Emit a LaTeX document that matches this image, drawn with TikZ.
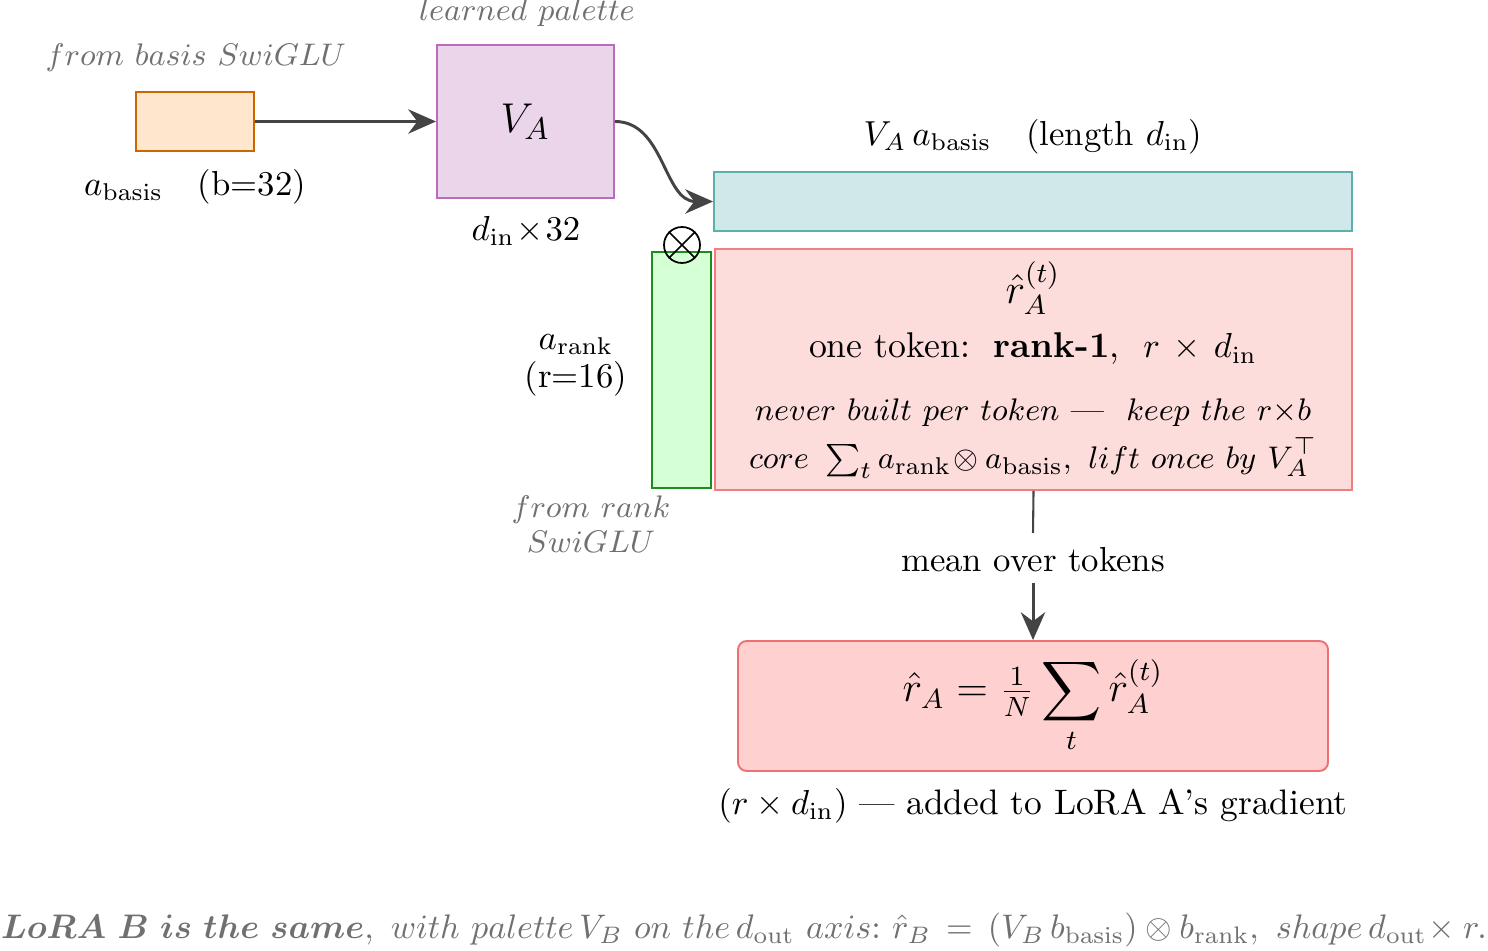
\documentclass[tikz,border=0pt]{standalone}
\usepackage{graphicx}
\usepackage{amsmath,amssymb,bm}
\usetikzlibrary{arrows.meta}
\definecolor{orfill}{HTML}{FFE6CC}
\definecolor{ordraw}{HTML}{CC6600}
\definecolor{pufill}{HTML}{EAD5EA}
\definecolor{pudraw}{HTML}{BA6BBE}
\definecolor{tefill}{HTML}{D0E8EA}
\definecolor{tedraw}{HTML}{5BB0AC}
\definecolor{grfill}{HTML}{D5FFD5}
\definecolor{grdraw}{HTML}{1E8C1E}
\definecolor{pkfill}{HTML}{FDDCDC}
\definecolor{pkdraw}{HTML}{F27F7F}
\definecolor{rsfill}{HTML}{FFD0D0}
\definecolor{rsdraw}{HTML}{EE7070}
\definecolor{notegray}{HTML}{707070}
\definecolor{arrgray}{HTML}{444444}
\newcommand\pxu{0.288pt}
\newcommand\itsz{\fontsize{9.3}{11}\selectfont}
\tikzset{
  box/.style={draw, line width=0.55pt, inner sep=0pt, rectangle},
  note/.style={text=notegray, inner sep=1pt, font=\itsz},
  lbl/.style={inner sep=1pt},
  arr/.style={draw=arrgray, line width=0.85pt, -{Stealth[length=8pt,width=7pt]}},
  plain/.style={draw=arrgray, line width=0.6pt}
}
\begin{document}
\begin{tikzpicture}[x=0.288pt,y=-0.288pt]
\useasboundingbox (0,0) rectangle (1488,950);
% boxes
\node[box, draw=ordraw, fill=orfill, minimum width=118*\pxu, minimum height=59*\pxu] (abasis) at (195,121.5) {};
\node[box, draw=pudraw, fill=pufill, minimum width=177*\pxu, minimum height=153*\pxu] (VA) at (525.5,121.5) {\fontsize{13}{15}\selectfont $V_A$};
\node[box, draw=tedraw, fill=tefill, minimum width=638*\pxu, minimum height=59*\pxu] (teal) at (1033,201.5) {};
\node[box, draw=grdraw, fill=grfill, minimum width=59*\pxu, minimum height=236*\pxu] (arank) at (681.5,370) {};
\node[box, draw=pkdraw, fill=pkfill, minimum width=637*\pxu, minimum height=241*\pxu] (rt) at (1033.5,369.5) {};
\node[box, draw=rsdraw, fill=rsfill, rounded corners=2.5pt, minimum width=590*\pxu, minimum height=130*\pxu] (res) at (1033,706) {};
\node[draw, circle, line width=0.5pt, minimum size=36*\pxu, inner sep=0pt] (otimes) at (682,245) {};
\draw[line width=0.5pt] (otimes.north west) -- (otimes.south east) (otimes.north east) -- (otimes.south west);
% labels
\node[note] (nbasis) at (196,58) {$from\ basis\ SwiGLU$};
\node[lbl] (labasis) at (195,187) {$a_{\mathrm{basis}}$\quad(b=32)};
\node[note] (npal) at (527,13) {$learned\ palette$};
\node[lbl] (ldim) at (526,231) {$d_{\mathrm{in}}\!\times\!32$};
\node[lbl] (lteal) at (1033,137) {$V_A\,a_{\mathrm{basis}}$\quad(length $d_{\mathrm{in}}$)};
\node[lbl, align=center] (larank) at (576,365) {$a_{\mathrm{rank}}$\\[-1pt](r=16)};
\node[note, align=center] (nrank) at (591,524) {$from\ rank$\\[-1pt]$SwiGLU$};
\node[lbl] (lrt1) at (1033,288) {\large $\hat r_A^{(t)}$};
\node[lbl] (lrt2) at (1033,349) {\fontsize{10.3}{12}\selectfont one token:\ \ \textbf{rank-1},\ \ $r\,\times\,d_{\mathrm{in}}$};
\node[lbl, font=\itsz] (lrt3) at (1033,413) {$never\ built\ per\ token$\ --- \ $keep\ the\ r{\times}b$};
\node[lbl, font=\itsz] (lrt4) at (1033,458) {$core\ \textstyle\sum_t a_{\mathrm{rank}}\!\otimes a_{\mathrm{basis}},\ lift\ once\ by\ V_A^{\top}$};
\node[lbl] (lmean) at (1033,560) {mean over tokens};
\node[lbl] (lres) at (1033,706) {\large $\hat r_A=\tfrac{1}{N}\displaystyle\sum_t \hat r_A^{(t)}$};
\node[lbl, font=\fontsize{10.2}{12}\selectfont] (lgrad) at (1033,806) {$(r\times d_{\mathrm{in}})$ --- added to LoRA A's gradient};
\node[note, font=\normalsize] (foot) at (744,930) {\scalebox{0.982}{$\boldsymbol{LoRA\ B\ is\ the\ same},\ with\ palette\,V_B\ on\ the\,d_{\mathrm{out}}\ axis{:}\ \hat r_B\,=\,(V_B\,b_{\mathrm{basis}})\otimes b_{\mathrm{rank}},\ shape\,d_{\mathrm{out}}\!\times r.$}};
% connectors
\coordinate (mtop) at (1033,533);
\coordinate (mbot) at (1033,583);
\draw[arr] (abasis.east) -- (VA.west);
\draw[arr] (VA.east) to[out=0,in=180,looseness=1.0] (teal.west);
\draw[plain] (rt.south) -- (mtop);
\draw[arr] (mbot) -- (res.north);
\end{tikzpicture}
\end{document}
